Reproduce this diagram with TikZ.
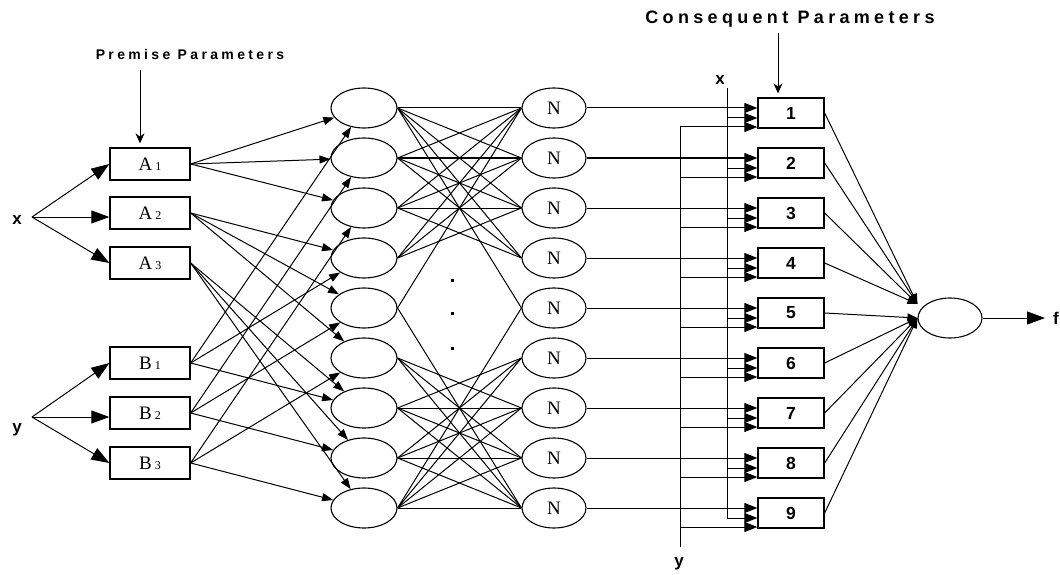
\documentclass[tikz,border=0pt]{standalone}
\usepackage{fontspec}
\setmainfont{Liberation Serif}
\newfontfamily\labelsans{Liberation Sans}
\newfontfamily\spacedsans[LetterSpace=24]{Liberation Sans}
\usetikzlibrary{arrows.meta,positioning,calc,shapes.geometric}

\tikzset{
    premisebox/.style={draw, line width=1.3pt, minimum width=80pt, minimum height=32pt, inner sep=0pt, font=\fontsize{19}{20}\selectfont},
    rulenode/.style={draw, ellipse, line width=1.1pt, minimum width=66pt, minimum height=40pt, inner sep=0pt},
    normnode/.style={rulenode, minimum width=64pt, font=\fontsize{19}{20}\selectfont},
    conbox/.style={draw, line width=1.3pt, minimum width=66pt, minimum height=30pt, inner sep=0pt, font=\labelsans\bfseries\fontsize{17.5}{18}\selectfont},
    varlabel/.style={inner sep=0pt, anchor=base, font=\labelsans\bfseries\fontsize{17}{18}\selectfont},
    wire/.style={line width=1pt},
    mfarrow/.style={wire, -{Triangle[length=18pt,width=13pt]}},
    rulearrow/.style={wire, -{Triangle[length=11pt,width=8pt]}},
    conarrow/.style={wire, -{Triangle[length=13pt,width=10pt]}},
    sumarrow/.style={wire, -{Triangle[length=10pt,width=8pt]}},
    paramarrow/.style={wire, -{Stealth[length=10pt,width=9pt]}, shorten >=4pt},
}
\newcommand{\subdigit}[1]{\,{\fontsize{12}{12}\selectfont #1}}

\begin{document}
\begin{tikzpicture}[x=1pt,y=-1pt]
    \useasboundingbox (0,0) rectangle (1060,575);

    % labels on top
    \node[anchor=base, inner sep=0pt, font=\spacedsans\bfseries\fontsize{14}{16}\selectfont] (premlab) at (190,60) {Premise Parameters};
    \node[anchor=base, inner sep=0pt, font=\spacedsans\bfseries\fontsize{18}{20}\selectfont] (conlab) at (790,24) {Consequent Parameters};

    % layer 1
    \foreach \i/\y in {1/164,2/213,3/263}
        \node[premisebox] (A\i) at (150,\y) {A\subdigit{\i}};
    \foreach \i/\y in {1/363,2/413,3/463}
        \node[premisebox] (B\i) at (150,\y) {B\subdigit{\i}};

    % inputs
    \node[varlabel] (xin) at (17,224) {x};
    \node[varlabel] (yin) at (17,432) {y};
    \coordinate (xsrc) at (32,217);
    \coordinate (ysrc) at (32,417);
    \draw[mfarrow] (xsrc) -- (A1.west);
    \draw[mfarrow] (xsrc) -- (xsrc -| A2.west);
    \draw[mfarrow] (xsrc) -- (A3.west);
    \draw[mfarrow] (ysrc) -- (B1.west);
    \draw[mfarrow] (ysrc) -- (ysrc -| B2.west);
    \draw[mfarrow] (ysrc) -- (B3.west);

    \coordinate (pstart) at (140,70);
    \draw[paramarrow] (pstart) -- (pstart |- A1.north);

    % layers 2 and 3
    \foreach \i in {1,...,9} {
        \node[rulenode] (e\i) at (364,{108+50*(\i-1)}) {};
        \node[normnode] (n\i) at (554,{108+50*(\i-1)}) {N};
    }
    \foreach \y in {280,313,348}
        \fill ($(452,\y)+(-1.5,-1.5)$) rectangle ++(3,3);

    % layer 1 to layer 2
    \foreach \a in {1,2,3}
        \foreach \k in {1,2,3} {
            \pgfmathtruncatemacro\ra{3*(\a-1)+\k}
            \pgfmathtruncatemacro\rb{3*(\k-1)+\a}
            \draw[rulearrow] (A\a.east) -- (e\ra);
            \draw[rulearrow] (B\a.east) -- (e\rb);
        }

    % layer 2 to layer 3
    \foreach \i in {1,...,4}
        \foreach \j in {1,...,4} {
            \ifnum\i\j=44 \else \draw[wire] (e\i.east) -- (n\j.west); \fi
        }
    \foreach \i in {6,...,9}
        \foreach \j in {6,...,9} {
            \ifnum\i\j=66 \else \draw[wire] (e\i.east) -- (n\j.west); \fi
        }
    \draw[wire] (e1.east) -- (n5.west) (e5.east) -- (n1.west)
                (e5.east) -- (n9.west) (e9.east) -- (n5.west);

    % layer 4
    \foreach \i in {1,...,9} {
        \node[conbox] (c\i) at (791,{113+50*(\i-1)}) {\i};
        \path (c\i.west) ++(0,5) coordinate (cx\i) ++(0,9) coordinate (cy\i);
        \draw[conarrow] (n\i.east) -- (n\i.east -| c\i.west);
    }
    \coordinate (cstart) at (778,33);
    \draw[paramarrow] (cstart) -- (cstart |- c1.north);

    % x and y buses
    \coordinate (xtop) at (727,88);
    \coordinate (ybot) at (680,547);
    \node[varlabel] (xlab) at (720,85) {x};
    \node[varlabel] (ylab) at (679,566) {y};
    \draw[conarrow] (xtop) |- (cx9);
    \foreach \i in {1,...,8}
        \draw[conarrow] (xtop |- cx\i) -- (cx\i);
    \draw[conarrow] (ybot) |- (cy1);
    \foreach \i in {2,...,9}
        \draw[conarrow] (ybot |- cy\i) -- (cy\i);

    % layer 5
    \node[rulenode, minimum width=64pt] (out) at (950,318) {};
    \coordinate (outup) at ($(out.west)+(0,-14)$);
    \foreach \i in {1,...,4}
        \draw[sumarrow] (c\i.east) -- (outup);
    \foreach \i in {5,...,9}
        \draw[sumarrow] (c\i.east) -- (out.west);
    \coordinate (fend) at (1045,318);
    \draw[mfarrow] (out.east) -- (fend);
    \node[varlabel] (flab) at (1056,324) {f};
\end{tikzpicture}
\end{document}
